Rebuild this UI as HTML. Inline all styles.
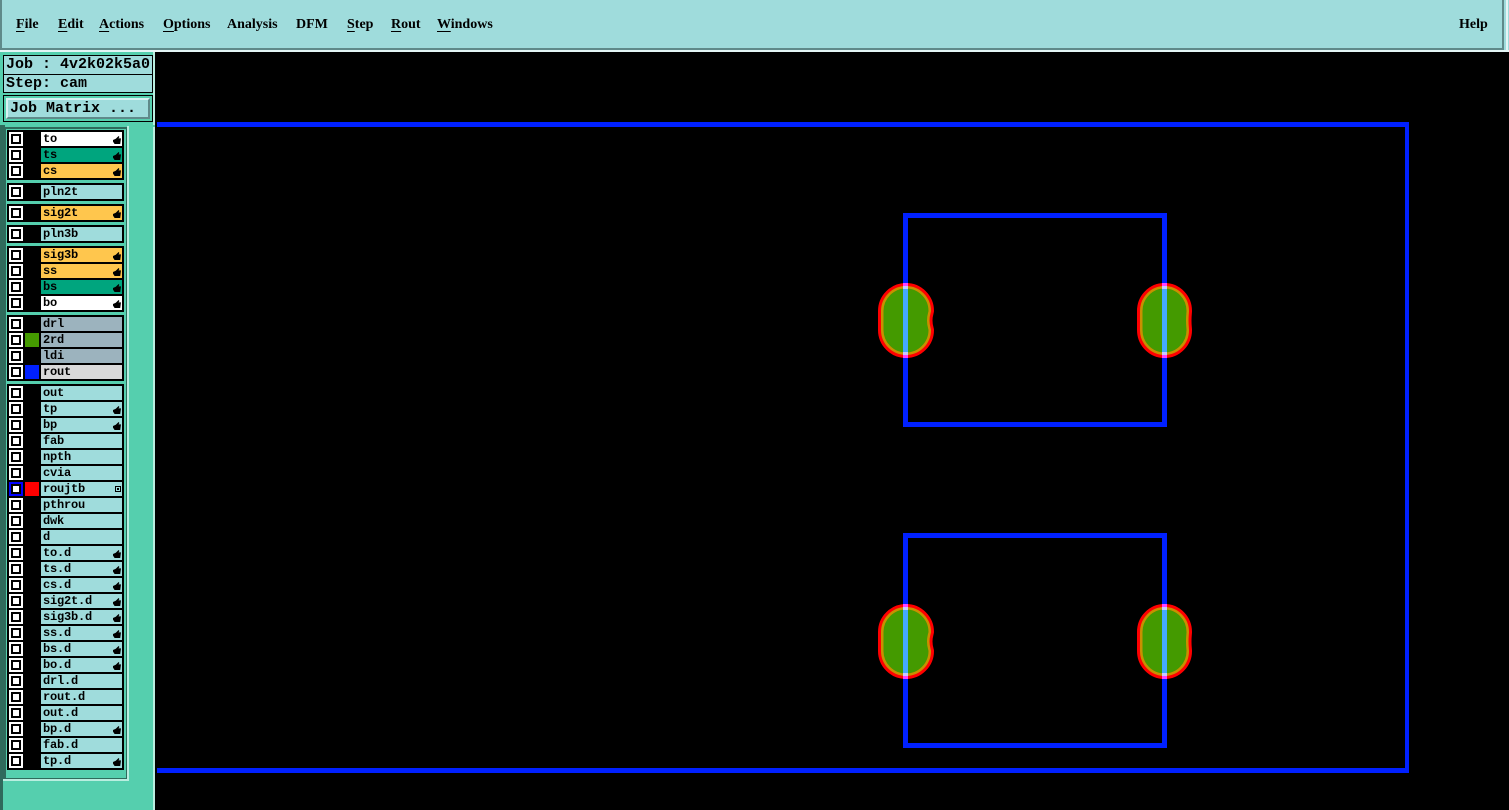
<!DOCTYPE html>
<html><head><meta charset="utf-8"><style>
html,body{margin:0;padding:0;background:#000;width:1509px;height:810px;overflow:hidden}
div,span,b,i,u{position:absolute;display:block;box-sizing:border-box}
.m{font:bold 14px "Liberation Serif",serif;color:#000;top:17px;white-space:pre}
.m em{font-style:normal;text-decoration:underline;text-underline-offset:3px}
.t{font:bold 15px/17px "Liberation Mono",monospace;color:#000;white-space:pre}
.g{left:7px;width:117px;background:#000}
.r{left:0;width:117px;height:16px}
.c{left:2px;top:0;width:14px;height:14px;background:#fff}
.c:before{content:"";position:absolute;left:2px;top:2px;width:10px;height:10px;border:2px solid #000;background:#fff;box-sizing:border-box}
.s{left:18px;top:0;width:14px;height:14px}
.l{left:34px;top:0;width:81px;height:14px;background:#9fdcdc;font:bold 12px/15px "Liberation Mono",monospace;letter-spacing:-.2px;color:#000;padding-left:2px;white-space:pre}
.h:after{content:"";position:absolute;left:72px;top:4px;width:8px;height:8px;background:#000;clip-path:polygon(0 50%,35% 35%,70% 0,80% 12%,68% 30%,100% 30%,90% 100%,20% 100%,0 70%)}
.y{background:#ffc64d}.e{background:#00a57e}.w{background:#fff}.a{background:#9cb3be}.x{background:#d9d9d9}
</style></head><body>
<div style="left:0;top:0;width:1509px;height:52px;background:#9fdcdc"></div>
<div style="left:0;top:0;width:2px;height:50px;background:#5f8a8a"></div>
<div style="left:2px;top:48px;width:1502px;height:2px;background:#5f8a8a"></div>
<div style="left:1502px;top:0;width:2px;height:50px;background:#5f8a8a"></div>
<div style="left:1506px;top:0;width:2px;height:50px;background:#e4f6f6"></div>
<div style="left:0;top:50px;width:1509px;height:2px;background:#e4f6f6"></div>
<span class="m" style="left:16px"><em>F</em>ile</span>
<span class="m" style="left:58px"><em>E</em>dit</span>
<span class="m" style="left:99px"><em>A</em>ctions</span>
<span class="m" style="left:163px"><em>O</em>ptions</span>
<span class="m" style="left:227px">Analysis</span>
<span class="m" style="left:296px">DFM</span>
<span class="m" style="left:347px"><em>S</em>tep</span>
<span class="m" style="left:391px"><em>R</em>out</span>
<span class="m" style="left:437px"><em>W</em>indows</span>
<span class="m" style="left:1459px">Help</span>

<div style="left:0;top:52px;width:155px;height:758px;background:#55cfae"></div>
<div style="left:153px;top:52px;width:2px;height:758px;background:#b9eee0"></div>
<div style="left:0;top:125px;width:5px;height:685px;background:#2f6a5c"></div>

<div style="left:3px;top:55px;width:150px;height:20px;border:1px solid #000;background:#9fdcdc"></div>
<div style="left:3px;top:74px;width:150px;height:19px;border:1px solid #000;background:#9fdcdc"></div>
<span class="t" style="left:6px;top:56px">Job : 4v2k02k5a0</span>
<span class="t" style="left:6px;top:75px">Step: cam</span>
<div style="left:3px;top:95px;width:150px;height:27px;border:1px solid #000;background:#55cfae"></div>
<div style="left:6px;top:98px;width:144px;height:21px;background:#9fdcdc;border:2px solid;border-color:#d8f2f2 #5f8a8a #5f8a8a #d8f2f2"></div>
<span class="t" style="left:10px;top:100px">Job Matrix ...</span>

<div style="left:5px;top:126px;width:122px;height:653px;background:#55cfae;border:1px solid;border-color:#2f6a5c"></div>
<div style="left:5px;top:125px;width:150px;height:2px;background:#55cfae"></div>
<div style="left:5px;top:127px;width:122px;height:2px;background:#2f6a5c"></div>
<div style="left:127px;top:126px;width:2px;height:655px;background:#b9eee0"></div>
<div style="left:3px;top:779px;width:126px;height:2px;background:#b9eee0"></div>
<div style="left:3px;top:781px;width:150px;height:29px;background:#55cfae"></div>

<div class="g" style="top:130px;height:50px">
<div class="r" style="top:2px"><i class="c"></i><span class="l w h">to</span></div>
<div class="r" style="top:18px"><i class="c"></i><span class="l e h">ts</span></div>
<div class="r" style="top:34px"><i class="c"></i><span class="l y h">cs</span></div>
</div>
<div class="g" style="top:183px;height:18px"><div class="r" style="top:2px"><i class="c"></i><span class="l">pln2t</span></div></div>
<div class="g" style="top:204px;height:18px"><div class="r" style="top:2px"><i class="c"></i><span class="l y h">sig2t</span></div></div>
<div class="g" style="top:225px;height:18px"><div class="r" style="top:2px"><i class="c"></i><span class="l">pln3b</span></div></div>
<div class="g" style="top:246px;height:66px">
<div class="r" style="top:2px"><i class="c"></i><span class="l y h">sig3b</span></div>
<div class="r" style="top:18px"><i class="c"></i><span class="l y h">ss</span></div>
<div class="r" style="top:34px"><i class="c"></i><span class="l e h">bs</span></div>
<div class="r" style="top:50px"><i class="c"></i><span class="l w h">bo</span></div>
</div>
<div class="g" style="top:315px;height:66px">
<div class="r" style="top:2px"><i class="c"></i><span class="l a">drl</span></div>
<div class="r" style="top:18px"><i class="c"></i><b class="s" style="background:#449a00"></b><span class="l a">2rd</span></div>
<div class="r" style="top:34px"><i class="c"></i><span class="l a">ldi</span></div>
<div class="r" style="top:50px"><i class="c"></i><b class="s" style="background:#0020ff"></b><span class="l x">rout</span></div>
</div>
<div class="g" style="top:384px;height:386px">
<div class="r" style="top:2px"><i class="c"></i><span class="l">out</span></div>
<div class="r" style="top:18px"><i class="c"></i><span class="l h">tp</span></div>
<div class="r" style="top:34px"><i class="c"></i><span class="l h">bp</span></div>
<div class="r" style="top:50px"><i class="c"></i><span class="l">fab</span></div>
<div class="r" style="top:66px"><i class="c"></i><span class="l">npth</span></div>
<div class="r" style="top:82px"><i class="c"></i><span class="l">cvia</span></div>
<div class="r" style="top:98px"><i class="c" style="background:#0000ff"></i><b class="s" style="background:#ff0000"></b><span class="l">roujtb<u style="left:74px;top:4px;width:6px;height:6px;border:1px solid #000;background:linear-gradient(#000,#000) center/2px 2px no-repeat #9fdcdc"></u></span></div>
<div class="r" style="top:114px"><i class="c"></i><span class="l">pthrou</span></div>
<div class="r" style="top:130px"><i class="c"></i><span class="l">dwk</span></div>
<div class="r" style="top:146px"><i class="c"></i><span class="l">d</span></div>
<div class="r" style="top:162px"><i class="c"></i><span class="l h">to.d</span></div>
<div class="r" style="top:178px"><i class="c"></i><span class="l h">ts.d</span></div>
<div class="r" style="top:194px"><i class="c"></i><span class="l h">cs.d</span></div>
<div class="r" style="top:210px"><i class="c"></i><span class="l h">sig2t.d</span></div>
<div class="r" style="top:226px"><i class="c"></i><span class="l h">sig3b.d</span></div>
<div class="r" style="top:242px"><i class="c"></i><span class="l h">ss.d</span></div>
<div class="r" style="top:258px"><i class="c"></i><span class="l h">bs.d</span></div>
<div class="r" style="top:274px"><i class="c"></i><span class="l h">bo.d</span></div>
<div class="r" style="top:290px"><i class="c"></i><span class="l">drl.d</span></div>
<div class="r" style="top:306px"><i class="c"></i><span class="l">rout.d</span></div>
<div class="r" style="top:322px"><i class="c"></i><span class="l">out.d</span></div>
<div class="r" style="top:338px"><i class="c"></i><span class="l h">bp.d</span></div>
<div class="r" style="top:354px"><i class="c"></i><span class="l">fab.d</span></div>
<div class="r" style="top:370px"><i class="c"></i><span class="l h">tp.d</span></div>
</div>

<svg width="1509" height="810" style="position:absolute;left:0;top:0" fill="none">
<defs>
<path id="pa" d="M906 284.500C920.600 284.500 932.500 296.400 932.500 311C932.500 313 931 315 931 320.500C931 326 932.500 328 932.500 330C932.500 344.600 920.600 356.500 906 356.500C891.400 356.500 879.500 344.600 879.500 330V311C879.500 296.400 891.400 284.500 906 284.500Z"/>
<path id="pb" d="M1164.500 284.500C1179 284.500 1190.500 296.400 1190.500 311C1190.500 313 1190 315 1190 320.500C1190 326 1190.500 328 1190.500 330C1190.500 344.600 1179 356.500 1164.500 356.500C1150 356.500 1138.500 344.600 1138.500 330V311C1138.500 296.400 1150 284.500 1164.500 284.500Z"/>
<clipPath id="ca"><use href="#pa"/></clipPath>
<clipPath id="cb"><use href="#pb"/></clipPath>
<g id="sa">
<use href="#pa" fill="#449a00"/>
<g clip-path="url(#ca)"><use href="#pa" stroke="#c89000" stroke-width="8"/></g>
<use href="#pa" stroke="#ff0000" stroke-width="3"/>
<rect x="903" y="287" width="5" height="67" fill="#44aaff"/>
<rect x="903" y="283" width="5" height="3" fill="#ff40ff"/><rect x="903" y="355" width="5" height="3" fill="#ff40ff"/>
<rect x="903" y="286" width="5" height="3" fill="#c8c8ff"/><rect x="903" y="352" width="5" height="3" fill="#c8c8ff"/>
</g>
<g id="sb">
<use href="#pb" fill="#449a00"/>
<g clip-path="url(#cb)"><use href="#pb" stroke="#c89000" stroke-width="8"/></g>
<use href="#pb" stroke="#ff0000" stroke-width="3"/>
<rect x="1162" y="287" width="5" height="67" fill="#44aaff"/>
<rect x="1162" y="283" width="5" height="3" fill="#ff40ff"/><rect x="1162" y="355" width="5" height="3" fill="#ff40ff"/>
<rect x="1162" y="286" width="5" height="3" fill="#c8c8ff"/><rect x="1162" y="352" width="5" height="3" fill="#c8c8ff"/>
</g>
</defs>
<g fill="#0020ff" shape-rendering="crispEdges">
<rect x="157" y="122" width="1252" height="5"/>
<rect x="1405" y="122" width="4" height="651"/>
<rect x="157" y="768" width="1252" height="5"/>
</g>
<g stroke="#0020ff" stroke-width="5" shape-rendering="crispEdges">
<rect x="905.500" y="215.500" width="259" height="209"/>
<rect x="905.500" y="535.500" width="259" height="210"/>
</g>
<use href="#sa"/>
<use href="#sb"/>
<use href="#sa" y="321"/>
<use href="#sb" y="321"/>
</svg>
</body></html>
